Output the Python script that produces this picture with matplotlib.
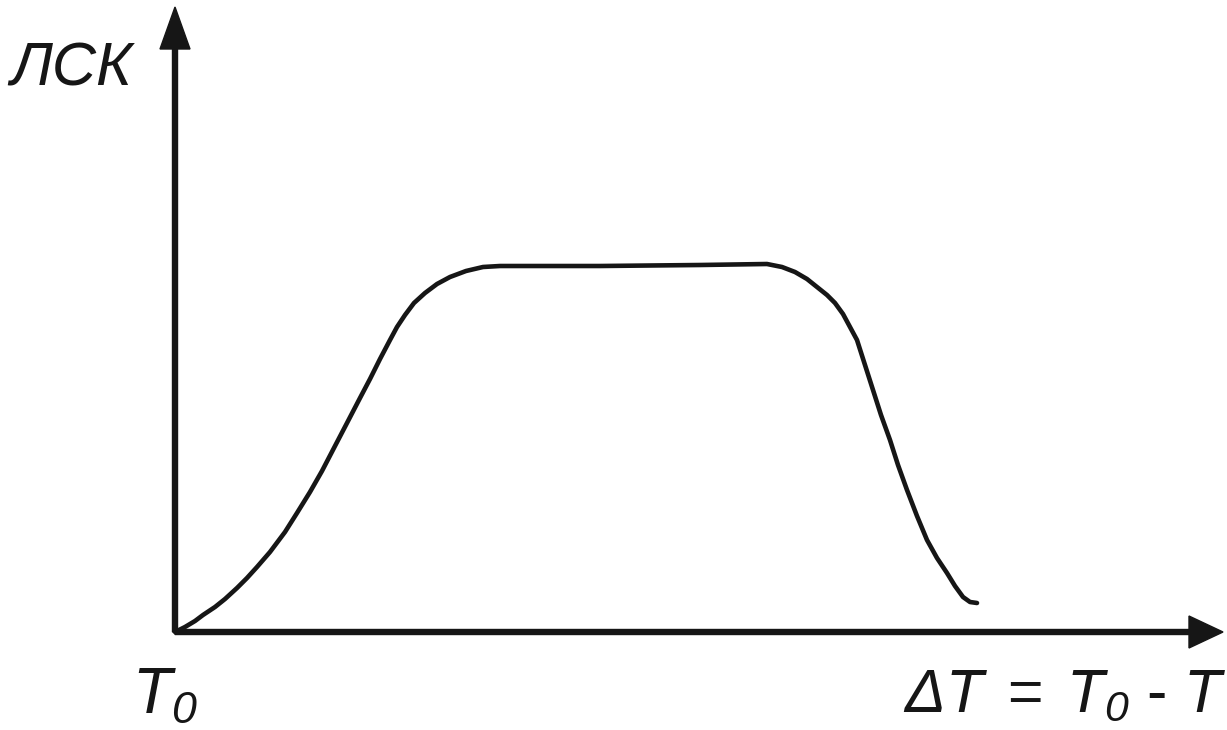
import matplotlib.pyplot as plt

plt.rcParams['mathtext.fontset'] = 'custom'
plt.rcParams['mathtext.rm'] = 'Liberation Sans:italic'
plt.rcParams['mathtext.it'] = 'Liberation Sans:italic'
plt.rcParams['font.family'] = ['Liberation Sans', 'DejaVu Sans']

# dT (relative units from T0) and LSK value
dT = [0, 10, 20, 28, 40, 50, 62, 72, 82, 95, 110, 122, 135, 147, 160, 172,
      185, 195, 205, 215, 222, 230, 239, 250, 262, 275, 291, 308, 325, 345,
      425, 525, 592, 607, 620, 632, 642, 652, 660, 668, 675, 682, 690, 698,
      706, 715, 723, 732, 742, 752, 762, 772, 780, 788, 795, 802]
lsk = [0, 5, 11, 17, 25, 33, 44, 54, 65, 80, 100, 119, 140, 161, 186, 209,
       234, 253, 273, 292, 305, 317, 329, 339, 348, 355, 361, 365, 366, 366,
       366, 367, 368, 365, 360, 353, 345, 337, 329, 318, 305, 292, 267, 242,
       217, 192, 167, 142, 116, 92, 74, 59, 46, 35, 30, 29]

ink = '#161616'

fig = plt.figure(figsize=(12.27, 7.30), dpi=100)
ax = fig.add_axes([0, 0, 1, 1])
ax.set_xlim(-175, 1052)
ax.set_ylim(-98, 632)
ax.axis('off')

ax.plot(dT, lsk, color=ink, lw=3.3, solid_joinstyle='round', solid_capstyle='round')

# axes with arrows
ax.arrow(0, 0, 1048, 0, width=5, head_width=32, head_length=34,
         length_includes_head=True, fc=ink, ec=ink)
ax.arrow(0, 0, 0, 625, width=5, head_width=30, head_length=42,
         length_includes_head=True, fc=ink, ec=ink)

ax.text(-165, 562, 'ЛСК', fontsize=44, style='italic', ha='left', va='center', color=ink)
ax.text(-43, -64, r'$T_0$', fontsize=46, ha='left', va='center', color=ink)
ax.text(1052, -64, r'$\Delta T\;=\;T_0$ ‐ $T$', fontsize=44, ha='right', va='center', color=ink)

fig.savefig('out.png', dpi=100)
